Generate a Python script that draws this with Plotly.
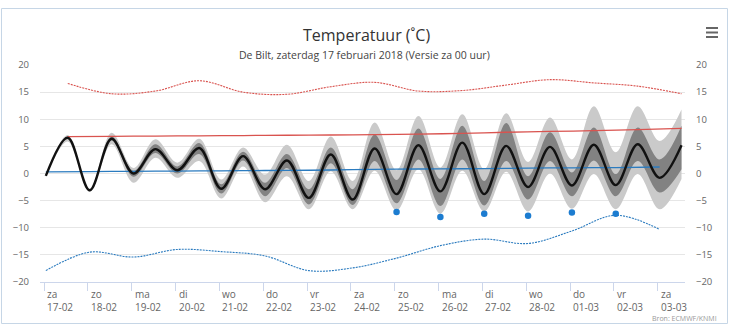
import pandas as pd
import plotly.graph_objects as go

# ---- forecast, every 12 hours (01:00 and 13:00), from za 17-02 01:00 ----
verwachting = [-0.45, 6.6, -3.1, 6.4, 0.0, 4.5, 0.6, 4.7, -2.8, 3.2,
               -2.9, 2.4, -4.5, 3.5, -4.8, 4.6, -3.8, 5.2, -3.3, 5.7,
               -3.8, 5.1, -2.5, 4.9, -2.2, 5.3, -2.15, 5.4, -0.8, 5.2]
# inner band of the ensemble
band_binnen_laag = [-0.45, 6.4, -3.2, 6.1, -0.6, 3.8, 0.0, 3.6, -3.7, 2.4,
                    -4.2, 1.0, -5.7, 1.9, -5.8, 2.3, -5.5, 2.6, -6.0, 2.6,
                    -5.9, 2.3, -4.8, 2.3, -4.2, 2.4, -4.2, 2.3, -3.5, 0.8]
band_binnen_hoog = [-0.45, 6.8, -3.0, 6.8, 0.5, 5.4, 1.3, 5.6, -2.0, 4.0,
                    -1.7, 3.6, -2.9, 4.8, -2.9, 7.2, -1.2, 8.3, -1.0, 8.8,
                    -1.4, 9.3, -0.5, 7.6, 0.2, 8.5, -0.1, 8.5, 2.6, 8.8]
# outer band of the ensemble
band_buiten_laag = [-0.6, 5.9, -3.4, 5.4, -1.7, 2.9, -0.8, 2.3, -4.6, 1.3,
                    -5.3, -0.5, -6.6, 0.4, -6.6, 0.5, -6.8, 0.8, -7.4, 0.5,
                    -7.0, 0.3, -7.0, 0.0, -6.5, -0.1, -6.6, -0.1, -6.6, -1.0]
band_buiten_hoog = [-0.3, 7.1, -2.8, 7.5, 1.0, 6.3, 2.0, 6.4, -1.1, 4.8,
                    -0.2, 5.3, -1.4, 6.8, -1.4, 9.4, 0.6, 10.6, 1.1, 10.9,
                    0.8, 11.1, 2.1, 10.3, 2.6, 12.4, 3.9, 12.4, 6.0, 11.8]

# ---- daily climate lines ----
# afternoon values (13:00)
max_hoogste = [16.6, 14.7, 15.2, 17.1, 15.0, 14.6, 16.0, 16.8, 15.2, 15.3,
               16.3, 17.3, 16.7, 16.1, 14.7]
max_normaal = [6.8, 6.85, 6.9, 6.95, 7.0, 7.05, 7.1, 7.15, 7.25, 7.4,
               7.6, 7.75, 7.9, 8.1, 8.3]
# night values (01:00)
min_normaal = [0.3, 0.35, 0.4, 0.45, 0.5, 0.55, 0.6, 0.7, 0.8, 0.85,
               0.9, 1.0, 1.05, 1.1, 1.2]
min_laagste = [-17.9, -14.5, -15.4, -14.0, -14.4, -15.2, -17.9, -17.4, -15.6, -13.3,
               -12.1, -12.9, -10.6, -7.7, -10.3]
# night minimum markers, zo 25-02 .. vr 02-03
min_punten = [-7.1, -8.0, -7.4, -7.8, -7.2, -7.4]

# ---- x-axis labels ----
dag_namen = ["za", "zo", "ma", "di", "wo", "do", "vr", "za",
             "zo", "ma", "di", "wo", "do", "vr", "za"]
dag_datums = ["17-02", "18-02", "19-02", "20-02", "21-02", "22-02", "23-02", "24-02",
              "25-02", "26-02", "27-02", "28-02", "01-03", "02-03", "03-03"]

t12 = pd.date_range("2018-02-17 01:00", periods=len(verwachting), freq="12h")
t_middag = pd.date_range("2018-02-17 13:00", periods=len(max_hoogste), freq="D")
t_nacht = pd.date_range("2018-02-17 01:00", periods=len(min_laagste), freq="D")
t_punten = pd.date_range("2018-02-25 01:00", periods=len(min_punten), freq="D")
t_ticks = pd.date_range("2018-02-17 00:00", periods=len(dag_namen), freq="D")

W, H = 732, 330
ML, MR, MT, MB = 40, 47, 65, 48
PW, PH = W - ML - MR, H - MT - MB


def px_x(px):
    return (px - ML) / PW


def px_y(py):
    return (H - MB - py) / PH


RED = "#d9534f"
BLUE = "#2b7bbf"
FONT = "Open Sans, Liberation Sans, sans-serif"

fig = go.Figure()


def band(lo, hi, color):
    fig.add_trace(go.Scatter(x=t12, y=lo, mode="lines", line=dict(width=0, shape="spline"),
                             hoverinfo="skip", showlegend=False))
    fig.add_trace(go.Scatter(x=t12, y=hi, mode="lines", line=dict(width=0, shape="spline"),
                             fill="tonexty", fillcolor=color, hoverinfo="skip", showlegend=False))


band(band_buiten_laag, band_buiten_hoog, "#cacaca")
band(band_binnen_laag, band_binnen_hoog, "#828282")

fig.add_trace(go.Scatter(x=t_middag, y=max_hoogste, mode="lines",
                         line=dict(color=RED, width=1.1, dash="2px,1px", shape="spline"), showlegend=False))
fig.add_trace(go.Scatter(x=t_middag, y=max_normaal, mode="lines",
                         line=dict(color=RED, width=1.3, shape="spline"), showlegend=False))
fig.add_trace(go.Scatter(x=t_nacht, y=min_normaal, mode="lines",
                         line=dict(color=BLUE, width=1.3, shape="spline"), showlegend=False))
fig.add_trace(go.Scatter(x=t_nacht, y=min_laagste, mode="lines",
                         line=dict(color=BLUE, width=1.1, dash="2px,1px", shape="spline"), showlegend=False))
fig.add_trace(go.Scatter(x=t12, y=verwachting, mode="lines",
                         line=dict(color="#111111", width=2.4, shape="spline"), showlegend=False))
fig.add_trace(go.Scatter(x=t_punten, y=min_punten, mode="markers",
                         marker=dict(color="#1c7cd0", size=6.5), showlegend=False))
# right-hand axis copy
fig.add_trace(go.Scatter(x=[t_ticks[0]], y=[None], yaxis="y2", showlegend=False, hoverinfo="skip"))

dag0 = pd.Timestamp("2018-02-17 00:00")
px_per_dag = 43.84
x_links = dag0 + pd.Timedelta(days=(ML - 44) / px_per_dag)
x_rechts = dag0 + pd.Timedelta(days=(ML + PW - 44) / px_per_dag)

axis_font = dict(family=FONT, size=9.5, color="#666666")
fig.update_layout(
    width=W, height=H,
    margin=dict(l=ML, r=MR, t=MT, b=MB),
    paper_bgcolor="white", plot_bgcolor="white",
    xaxis=dict(type="date", range=[x_links, x_rechts], showgrid=False,
               showline=True, linecolor="#ccd6eb", linewidth=1,
               ticks="outside", ticklen=8, tickcolor="#ccd6eb",
               tickvals=list(t_ticks), showticklabels=False, zeroline=False),
    yaxis=dict(range=[-20, 20], tickvals=[-20, -15, -10, -5, 0, 5, 10, 15, 20],
               gridcolor="#e6e6e6", zeroline=False, showline=False,
               tickfont=axis_font, ticklabelstandoff=10),
    yaxis2=dict(range=[-20, 20], tickvals=[-20, -15, -10, -5, 0, 5, 10, 15, 20],
                overlaying="y", side="right", showgrid=False, zeroline=False,
                tickfont=axis_font, ticklabelstandoff=10),
)

annotations = []
for t, naam, datum in zip(t_ticks, dag_namen, dag_datums):
    annotations.append(dict(x=t, y=0, xref="x", yref="paper", yanchor="top", xanchor="left",
                            align="left", text=f"{naam}<br>{datum}", showarrow=False,
                            xshift=1, yshift=-3,
                            font=dict(family=FONT, size=10, color="#666666")))
annotations.append(dict(x=px_x(366), y=px_y(22), xref="paper", yref="paper",
                        text="Temperatuur (˚C)", showarrow=False,
                        font=dict(family=FONT, size=16, color="#333333")))
annotations.append(dict(x=px_x(364), y=px_y(46), xref="paper", yref="paper",
                        text="De Bilt, zaterdag 17 februari 2018 (Versie za 00 uur)", showarrow=False,
                        font=dict(family=FONT, size=10.5, color="#444444")))
annotations.append(dict(x=px_x(719), y=px_y(318), xref="paper", yref="paper", xanchor="right",
                        yanchor="middle", text="Bron: ECMWF/KNMI", showarrow=False,
                        font=dict(family=FONT, size=7, color="#999999")))
fig.update_layout(annotations=annotations)

shapes = [dict(type="rect", xref="paper", yref="paper",
               x0=px_x(1.5), x1=px_x(727.5), y0=px_y(323.5), y1=px_y(8.5),
               line=dict(color="#c6d6e6", width=1), fillcolor="rgba(0,0,0,0)", layer="below")]
for py in (28, 32.5, 37):
    shapes.append(dict(type="line", xref="paper", yref="paper",
                       x0=px_x(706), x1=px_x(718), y0=px_y(py), y1=px_y(py),
                       line=dict(color="#666666", width=2)))
fig.update_layout(shapes=shapes)

fig.write_html("out.html")
